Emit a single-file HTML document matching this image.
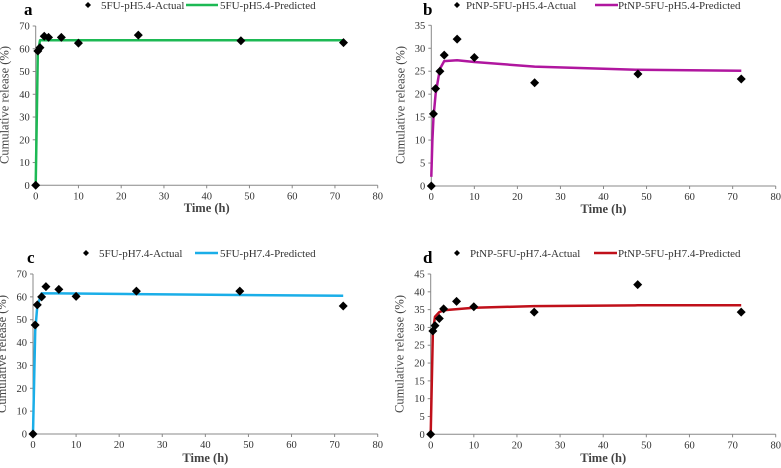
<!DOCTYPE html>
<html><head><meta charset="utf-8"><style>
html,body{margin:0;padding:0;background:#fff;}
svg{display:block;font-family:"Liberation Serif",serif;}
</style></head><body>
<svg id="chart" width="781" height="468"></svg>
<script>
const timesA=[0,0.5,1,2,3,6,10,24,48,72];
const actualA=[0,59,60.5,65.5,65,65,62.5,66,63.5,62.7];
const predTA=[0,0.25,0.5,1,72];
const predA=[0,30,58,63.7,63.7];
const timesB=[0,0.5,1,2,3,6,10,24,48,72];
const actualB=[0,15.7,21.2,25,28.5,32,28,22.5,24.4,23.3];
const predTB=[0,0.25,0.5,1,2,3,6,10,24,48,72];
const predB=[2,10,15,20,25.5,27.2,27.4,27,26,25.3,25.1];
const timesC=[0,0.5,1,2,3,6,10,24,48,72];
const actualC=[0,47.7,56.5,60,64.5,63.3,60.2,62.5,62.5,56];
const predTC=[0,0.5,1,2,6,24,48,72];
const predC=[0,45,56,61.5,61.5,61.2,60.8,60.5];
const timesD=[0,0.5,1,2,3,6,10,24,48,72];
const actualD=[0,29,30.5,32.5,35.2,37.3,35.8,34.3,42,34.3];
const predTD=[0,0.5,1,2,3,10,24,48,72];
const predD=[0,29,33,34.3,34.8,35.5,36,36.2,36.2];
const xTicks=[0,10,20,30,40,50,60,70,80];

const NS="http://www.w3.org/2000/svg";
const svg=document.getElementById('chart');
function el(t,a,p){const e=document.createElementNS(NS,t);for(const k in a)e.setAttribute(k,a[k]);(p||svg).appendChild(e);return e;}

const panels=[
 {id:'a',x0:35.7,x1:377.7,y0:185.3,y1:26,ymax:70,ystep:10,t:timesA,v:actualA,pt:predTA,pv:predA,color:'#1db954',ly:5,labx:24,
  la:'5FU-pH5.4-Actual',lp:'5FU-pH5.4-Predicted',dx:88,tx:101,l0:186,l1:218,lt:220,ytitle:105,ttl:212},
 {id:'b',x0:431.3,x1:775.7,y0:186,y1:25.3,ymax:35,ystep:5,t:timesB,v:actualB,pt:predTB,pv:predB,color:'#b0169f',ly:5,labx:423,
  la:'PtNP-5FU-pH5.4-Actual',lp:'PtNP-5FU-pH5.4-Predicted',dx:457,tx:466,l0:595,l1:618,lt:618,ytitle:105,ttl:213},
 {id:'c',x0:33,x1:377.7,y0:434,y1:274,ymax:70,ystep:10,t:timesC,v:actualC,pt:predTC,pv:predC,color:'#1aaee8',ly:253,labx:27,
  la:'5FU-pH7.4-Actual',lp:'5FU-pH7.4-Predicted',dx:86,tx:99,l0:195,l1:218,lt:220,ytitle:354,ttl:462},
 {id:'d',x0:430.7,x1:775.7,y0:434.3,y1:274,ymax:45,ystep:5,t:timesD,v:actualD,pt:predTD,pv:predD,color:'#c0101a',ly:253,labx:423,
  la:'PtNP-5FU-pH7.4-Actual',lp:'PtNP-5FU-pH7.4-Predicted',dx:457,tx:470,l0:594,l1:617,lt:618,ytitle:354,ttl:462}
];

panels.forEach(P=>{
 const g=el('g',{});
 
 
 const xs=v=>P.x0+(P.x1-P.x0)*v/80;
 const ys=v=>P.y0-(P.y0-P.y1)*v/P.ymax;
 // axes
 const ax=el('line',{x1:P.x0,y1:P.y1,x2:P.x0,y2:P.y0,stroke:'#888','stroke-width':1},g);
 
 
 const axx=el('line',{x1:P.x0,y1:P.y0,x2:P.x1,y2:P.y0,stroke:'#888','stroke-width':1},g);
 
 
 for(let v=0;v<=P.ymax;v+=P.ystep){
  el('line',{x1:P.x0-3,x2:P.x0,y1:ys(v),y2:ys(v),stroke:'#888'},g);
  const t=el('text',{x:P.x0-6,y:ys(v)+3.5,'text-anchor':'end','font-size':10.5,fill:'#333'},g);
  t.textContent=v;
  
  
 }
 xTicks.forEach(v=>{
  el('line',{x1:xs(v),x2:xs(v),y1:P.y0,y2:P.y0+3,stroke:'#888'},g);
  const t=el('text',{x:xs(v),y:P.y0+14,'text-anchor':'middle','font-size':10.5,fill:'#333'},g);
  t.textContent=v;
  
  
 });
 const xt=el('text',{x:(P.x0+P.x1)/2,y:P.ttl,'text-anchor':'middle','font-size':12.5,'font-weight':'bold',fill:'#444'},g);
 xt.textContent='Time (h)';
 
 
 const ytx=P.x0-27;
 const yt=el('text',{x:ytx,y:P.ytitle,'text-anchor':'middle','font-size':12.5,fill:'#444',transform:`rotate(-90 ${ytx} ${P.ytitle})`},g);
 yt.textContent='Cumulative release (%)';
 
 
 // predicted line
 const d=P.pt.map((t,i)=>(i?'L':'M')+xs(t).toFixed(1)+','+ys(P.pv[i]).toFixed(1)).join(' ');
 const pl=el('path',{d:d,fill:'none',stroke:P.color,'stroke-width':2.5,'stroke-linejoin':'round'},g);
 
 
 // actual points
 P.t.forEach((t,i)=>{
  const cx=xs(t),cy=ys(P.v[i]),r=4.5;
  const m=el('polygon',{points:`${cx},${cy-r} ${cx+r},${cy} ${cx},${cy+r} ${cx-r},${cy}`,fill:'#000'},g);
  
  
 });
 // panel label
 const lb=el('text',{x:P.labx,y:P.ly+10,'font-size':17,'font-weight':'bold',fill:'#000'},g);
 lb.textContent=P.id;
 
 
 // legend
 const r=3;
 const ld=el('polygon',{points:`${P.dx},${P.ly-r} ${P.dx+r},${P.ly} ${P.dx},${P.ly+r} ${P.dx-r},${P.ly}`,fill:'#000'},g);
 
 
 const la=el('text',{x:P.tx,y:P.ly+4,'font-size':11,fill:'#333'},g);
 la.textContent=P.la;
 
 
 const ll=el('line',{x1:P.l0,x2:P.l1,y1:P.ly,y2:P.ly,stroke:P.color,'stroke-width':2.5},g);
 
 
 const lp=el('text',{x:P.lt,y:P.ly+4,'font-size':11,fill:'#333'},g);
 lp.textContent=P.lp;
 
 
});
</script>
</body></html>
